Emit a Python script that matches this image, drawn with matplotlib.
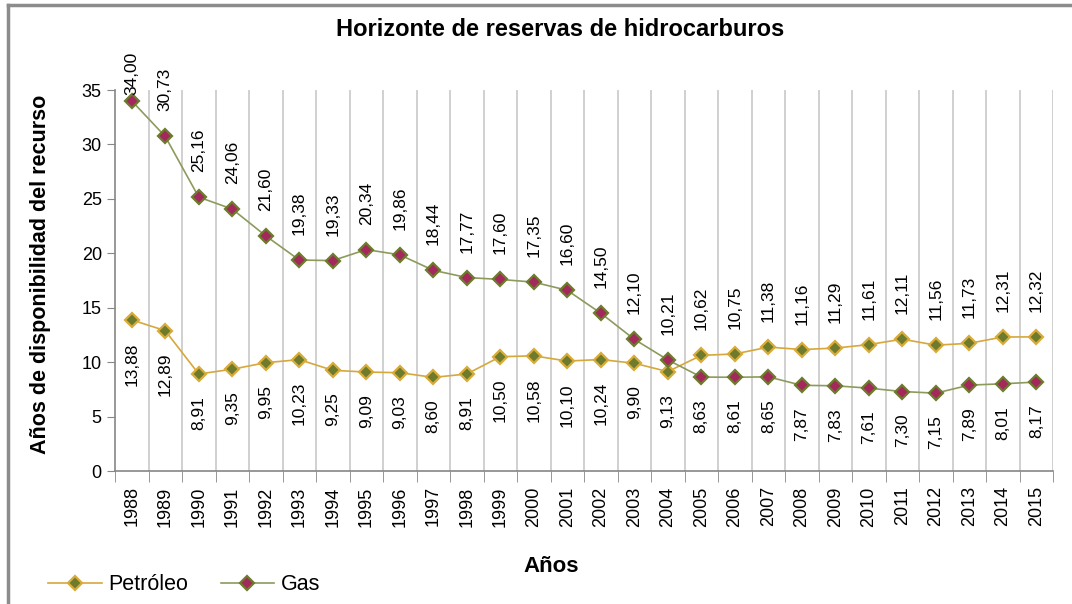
import matplotlib
matplotlib.use("Agg")
import matplotlib.pyplot as plt
from matplotlib.lines import Line2D

plt.rcParams["font.family"] = ["Liberation Sans", "DejaVu Sans"]

years = [str(y) for y in range(1988, 2016)]
petroleo = [13.88, 12.89, 8.91, 9.35, 9.95, 10.23, 9.25, 9.09, 9.03, 8.60,
            8.91, 10.50, 10.58, 10.10, 10.24, 9.90, 9.13, 10.62, 10.75, 11.38,
            11.16, 11.29, 11.61, 12.11, 11.56, 11.73, 12.31, 12.32]
gas = [34.00, 30.73, 25.16, 24.06, 21.60, 19.38, 19.33, 20.34, 19.86, 18.44,
       17.77, 17.60, 17.35, 16.60, 14.50, 12.10, 10.21, 8.63, 8.61, 8.65,
       7.87, 7.83, 7.61, 7.30, 7.15, 7.89, 8.01, 8.17]

pet_line, pet_face, pet_edge = "#D6A83C", "#6E7B2C", "#D9AC3A"
gas_line, gas_face, gas_edge = "#8C9B5C", "#A3285C", "#6E7B2C"


def fmt(v):
    return f"{v:.2f}".replace(".", ",")


def main():
    fig = plt.figure(figsize=(10.72, 6.04), dpi=100)
    ax = fig.add_axes([115 / 1072, 1 - 471 / 604, 938 / 1072, 381 / 604])

    x = list(range(len(years)))
    ax.plot(x, petroleo, color=pet_line, lw=1.2, marker="D", ms=7, mfc=pet_face,
            mec=pet_edge, mew=1.6, zorder=3)
    ax.plot(x, gas, color=gas_line, lw=1.2, marker="D", ms=7, mfc=gas_face,
            mec=gas_edge, mew=1.6, zorder=3)

    # data labels: higher series above, lower series below
    for i in x:
        for v, other in ((petroleo[i], gas[i]), (gas[i], petroleo[i])):
            if v >= other:
                off = 18 if v < 32 else 4
                ax.annotate(fmt(v), (i, v), xytext=(0, off), textcoords="offset points",
                            rotation=90, ha="center", va="bottom", fontsize=12.5,
                            annotation_clip=False)
            else:
                ax.annotate(fmt(v), (i, v), xytext=(0, -16), textcoords="offset points",
                            rotation=90, ha="center", va="top", fontsize=12.5)

    ax.set_xlim(-0.5, len(years) - 0.5)
    ax.set_ylim(0, 35)
    ax.set_yticks(range(0, 36, 5))
    ax.set_xticks(x)
    ax.set_xticklabels(years, rotation=90, fontsize=13)
    ax.tick_params(axis="x", length=0, pad=11)
    ax.tick_params(axis="y", labelsize=13, length=6, color="#868686")

    # category boundaries: grid lines + outer ticks
    for b in [i - 0.5 for i in range(1, len(years) + 1)]:
        ax.axvline(b, color="#C8C8C8", lw=1.2, zorder=1)
    ax.set_xticks([i - 0.5 for i in range(len(years) + 1)], minor=True)
    ax.tick_params(axis="x", which="minor", length=8, color="#868686")

    for s in ("top", "right"):
        ax.spines[s].set_visible(False)
    for s in ("left", "bottom"):
        ax.spines[s].set_color("#868686")
        ax.spines[s].set_linewidth(1.2)

    ax.set_ylabel("Años de disponibilidad del recurso", fontsize=15.5, fontweight="bold")
    ax.yaxis.set_label_coords(-0.068, 0.515)
    fig.text(551 / 1072, 1 - 566 / 604, "Años", fontsize=16, fontweight="bold",
             ha="center", va="center")
    fig.text(560 / 1072, 1 - 30 / 604, "Horizonte de reservas de hidrocarburos",
             fontsize=17, fontweight="bold", ha="center", va="center")

    handles = [
        Line2D([], [], color=pet_line, lw=1.2, marker="D", ms=7, mfc=pet_face,
               mec=pet_edge, mew=1.6),
        Line2D([], [], color=gas_line, lw=1.2, marker="D", ms=7, mfc=gas_face,
               mec=gas_edge, mew=1.6),
    ]
    fig.legend(handles, ["Petróleo", "Gas"], loc="center left", ncol=2,
               bbox_to_anchor=(33 / 1072, 1 - 585 / 604), frameon=False,
               fontsize=15.5, handlelength=2.5, handletextpad=0.3, columnspacing=1.5,
               borderpad=0.2)

    # chart border (top and left visible)
    fig.add_artist(Line2D([8 / 1072, 8 / 1072], [0, 1 - 5 / 604], color="#8C8C8C", lw=2.5))
    fig.add_artist(Line2D([8 / 1072, 1], [1 - 5 / 604, 1 - 5 / 604], color="#8C8C8C", lw=2.5))

    fig.savefig("out.png", dpi=100)


if __name__ == "__main__":
    main()
